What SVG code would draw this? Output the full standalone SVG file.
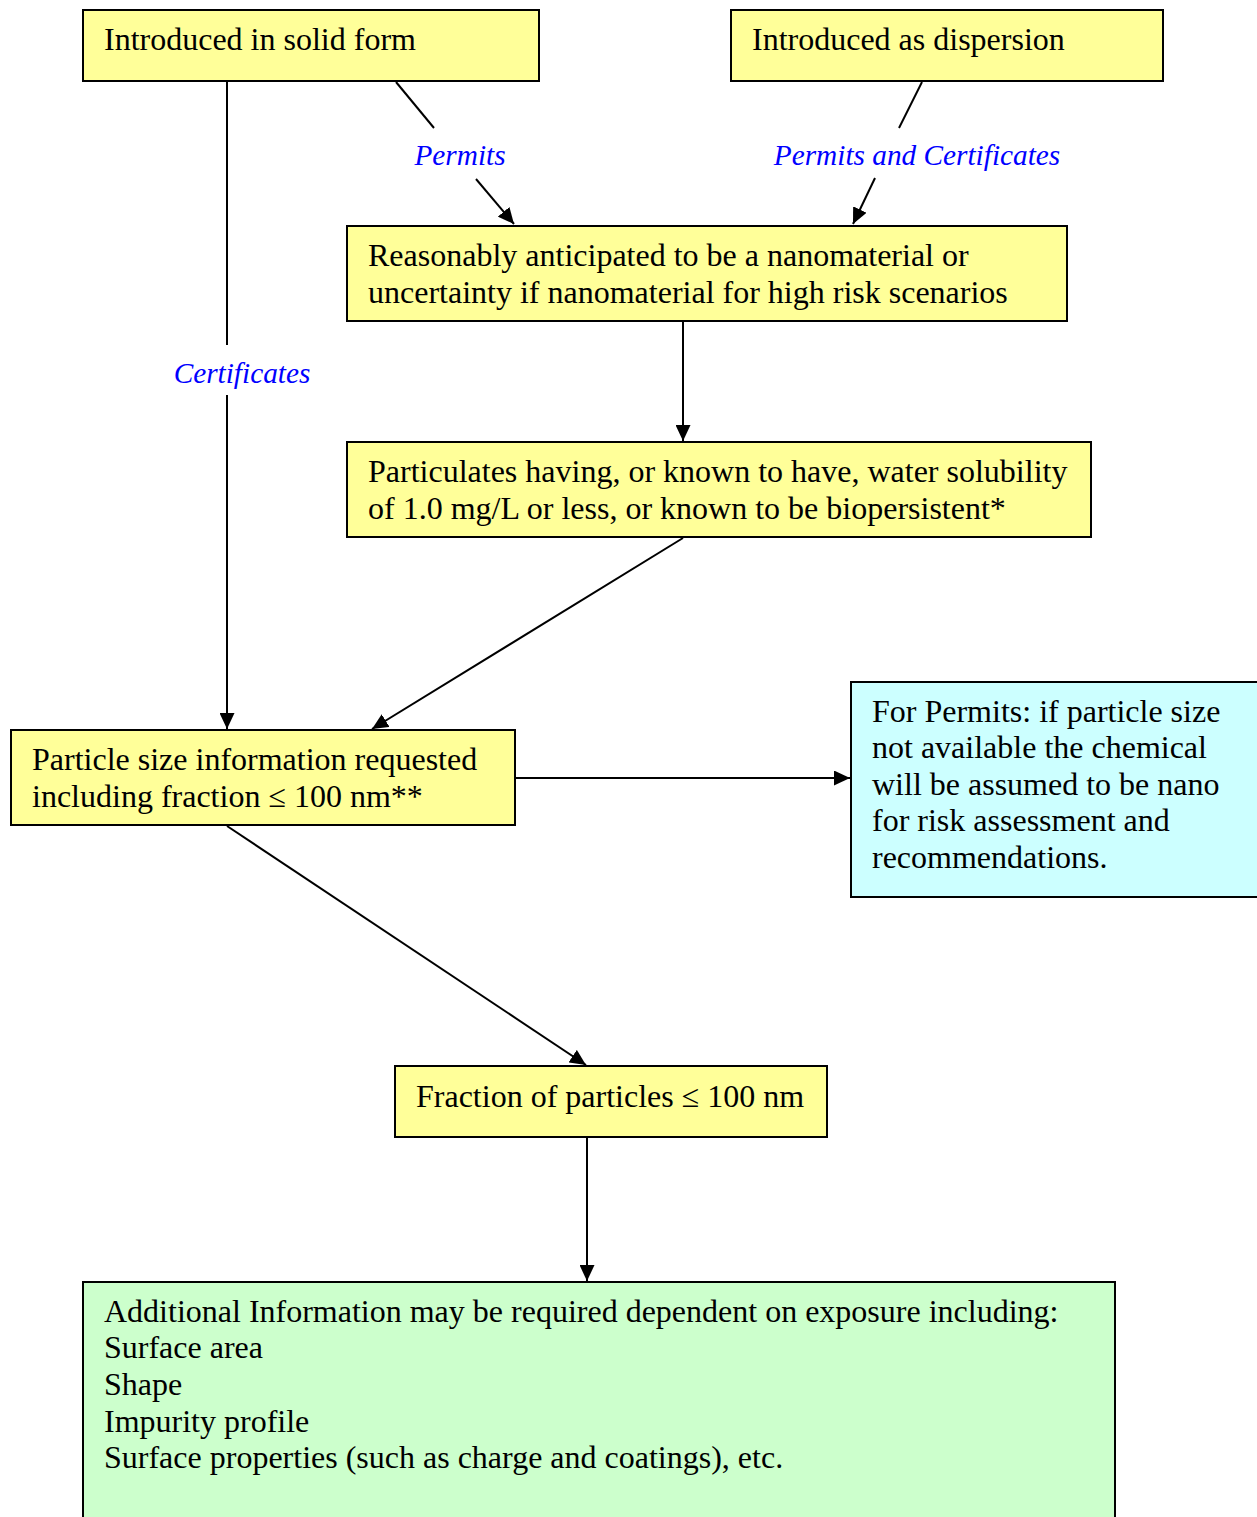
<svg xmlns="http://www.w3.org/2000/svg" width="1257" height="1517" viewBox="0 0 1257 1517">
<style>
.box{stroke:#000;stroke-width:2}
.y{fill:#ffff99}
.c{fill:#ccffff}
.g{fill:#ccffcc}
.t{font-family:"Liberation Serif","Times New Roman",serif;font-size:32px;fill:#000}
.lbl{font-family:"Liberation Serif","Times New Roman",serif;font-size:29.3px;font-style:italic;fill:#0000ff;text-anchor:middle}
.ln{stroke:#000;stroke-width:2;fill:none}
</style>
<defs>
<marker id="ah" markerUnits="userSpaceOnUse" markerWidth="17" markerHeight="15" refX="16" refY="7.5" orient="auto">
<path d="M0,0 L16,7.5 L0,15 Z" fill="#000"/>
</marker>
</defs>
<rect width="1257" height="1517" fill="#fff"/>
<g id="connectors">
<line class="ln" x1="396" y1="82" x2="434" y2="128"/>
<line class="ln" x1="476" y1="179" x2="514" y2="224" marker-end="url(#ah)"/>
<line class="ln" x1="922" y1="82" x2="899" y2="128"/>
<line class="ln" x1="875" y1="178" x2="853" y2="224" marker-end="url(#ah)"/>
<line class="ln" x1="227" y1="82" x2="227" y2="345"/>
<line class="ln" x1="227" y1="395" x2="227" y2="729" marker-end="url(#ah)"/>
<line class="ln" x1="683" y1="322" x2="683" y2="441" marker-end="url(#ah)"/>
<line class="ln" x1="683" y1="538" x2="372" y2="729" marker-end="url(#ah)"/>
<line class="ln" x1="516" y1="778" x2="850" y2="778" marker-end="url(#ah)"/>
<line class="ln" x1="227" y1="826" x2="586" y2="1065" marker-end="url(#ah)"/>
<line class="ln" x1="587" y1="1138" x2="587" y2="1281" marker-end="url(#ah)"/>
<text class="lbl" x="460" y="165">Permits</text>
<text class="lbl" x="917" y="165">Permits and Certificates</text>
<text class="lbl" x="242" y="383">Certificates</text>
</g>
<g id="n1">
<rect class="box y" x="83" y="10" width="456" height="71"/>
<text class="t" x="104" y="50">Introduced in solid form</text>
</g>
<g id="n2">
<rect class="box y" x="731" y="10" width="432" height="71"/>
<text class="t" x="752" y="50">Introduced as dispersion</text>
</g>
<g id="n3">
<rect class="box y" x="347" y="226" width="720" height="95"/>
<text class="t"><tspan x="368" y="266">Reasonably anticipated to be a nanomaterial or</tspan><tspan x="368" y="303">uncertainty if nanomaterial for high risk scenarios</tspan></text>
</g>
<g id="n4">
<rect class="box y" x="347" y="442" width="744" height="95"/>
<text class="t"><tspan x="368" y="482">Particulates having, or known to have, water solubility</tspan><tspan x="368" y="519">of 1.0 mg/L or less, or known to be biopersistent*</tspan></text>
</g>
<g id="n5">
<rect class="box y" x="11" y="730" width="504" height="95"/>
<text class="t"><tspan x="32" y="770">Particle size information requested</tspan><tspan x="32" y="807">including fraction ≤ 100 nm**</tspan></text>
</g>
<g id="n6">
<rect class="box c" x="851" y="682" width="410" height="215"/>
<text class="t"><tspan x="872" y="722">For Permits: if particle size</tspan><tspan x="872" y="758">not available the chemical</tspan><tspan x="872" y="795">will be assumed to be nano</tspan><tspan x="872" y="831">for risk assessment and</tspan><tspan x="872" y="868">recommendations.</tspan></text>
</g>
<g id="n7">
<rect class="box y" x="395" y="1066" width="432" height="71"/>
<text class="t" x="416" y="1107">Fraction of particles ≤ 100 nm</text>
</g>
<g id="n8">
<rect class="box g" x="83" y="1282" width="1032" height="250"/>
<text class="t"><tspan x="104" y="1322">Additional Information may be required dependent on exposure including:</tspan><tspan x="104" y="1358">Surface area</tspan><tspan x="104" y="1395">Shape</tspan><tspan x="104" y="1432">Impurity profile</tspan><tspan x="104" y="1468">Surface properties (such as charge and coatings), etc.</tspan></text>
</g>
</svg>
